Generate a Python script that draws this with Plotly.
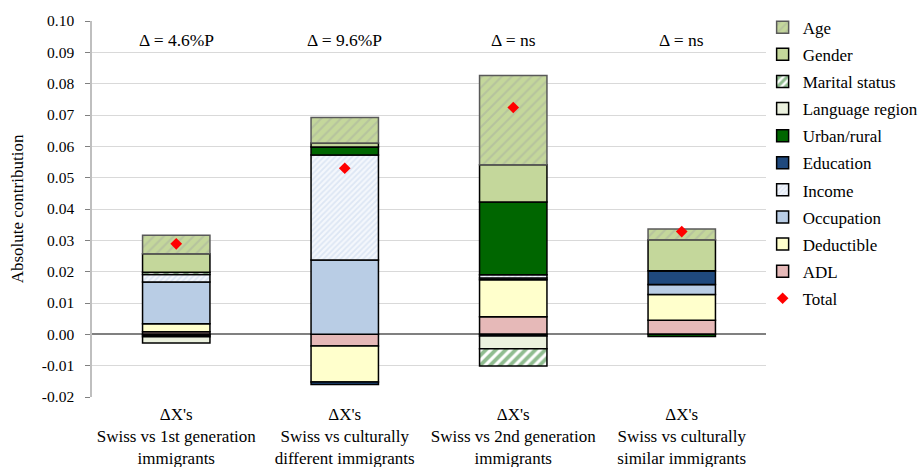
import plotly.graph_objects as go

categories = [
    "ΔX's<br>Swiss vs 1st generation<br>immigrants",
    "ΔX's<br>Swiss vs culturally<br>different immigrants",
    "ΔX's<br>Swiss vs 2nd generation<br>immigrants",
    "ΔX's<br>Swiss vs culturally<br>similar immigrants",
]
# stacking order from the axis outward
adl = [0.0008, -0.0037, 0.0056, 0.0045]
deductible = [0.0026, -0.0115, 0.0118, 0.0082]
occupation = [0.0133, 0.0237, 0.0006, 0.0032]
income = [0.0024, 0.0335, 0.0010, 0.0]
education = [-0.0003, -0.0008, -0.0005, 0.0044]
urban_rural = [-0.0005, 0.0026, 0.0232, -0.0007]
language_region = [-0.0020, 0.0, -0.0041, 0.0]
marital_status = [0.0007, 0.0, -0.0055, 0.0]
gender = [0.0059, 0.0013, 0.0119, 0.0099]
age = [0.0059, 0.0081, 0.0285, 0.0034]
total = [0.0289, 0.0530, 0.0724, 0.0328]
delta_labels = ["Δ = 4.6%P", "Δ = 9.6%P", "Δ = ns", "Δ = ns"]
y_ticks = [-0.02, -0.01, 0.0, 0.01, 0.02, 0.03, 0.04, 0.05, 0.06, 0.07, 0.08, 0.09, 0.10]
y_tick_text = ["-0.02", "-0.01", "0.00", "0.01", "0.02", "0.03", "0.04", "0.05",
               "0.06", "0.07", "0.08", "0.09", "0.10"]

FONT = "'Liberation Serif', 'DejaVu Serif', serif"

series = [
    ("ADL", adl, dict(color="#E6B9B8"), 10),
    ("Deductible", deductible, dict(color="#FFFFCC"), 9),
    ("Occupation", occupation, dict(color="#B9CDE5"), 8),
    ("Income", income, dict(color="#F4F7FC",
                             pattern=dict(shape="/", bgcolor="#F4F7FC", fgcolor="#C6D6EC",
                                          size=4, solidity=0.45)), 7),
    ("Education", education, dict(color="#1F497D"), 6),
    ("Urban/rural", urban_rural, dict(color="#006600"), 5),
    ("Language region", language_region, dict(color="#EBF1DE"), 4),
    ("Marital status", marital_status, dict(color="#FFFFFF",
                                            pattern=dict(shape="/", bgcolor="#FFFFFF", fgcolor="#1F7A1F",
                                                         size=7, solidity=0.55)), 3),
    ("Gender", gender, dict(color="#C4D79B"), 2),
    ("Age", age, dict(color="#C4D79B",
                      pattern=dict(shape="/", bgcolor="#C4D79B", fgcolor="#A8AFA0",
                                   size=7, solidity=0.3)), 1),
]

fig = go.Figure()
for name, vals, mk, rank in series:
    lc = "#595959" if name == "Age" else "#000000"
    fig.add_trace(go.Bar(
        x=categories, y=vals, name=name, legendrank=rank,
        legendgroup=name,
        marker=dict(**mk, line=dict(color=lc, width=1.5)),
        hoverinfo="skip",
    ))

fig.add_trace(go.Scatter(
    x=categories, y=total, name="Total", mode="markers", legendrank=11,
    legendgroup="Total",
    marker=dict(symbol="diamond", color="#FF0000", size=9),
))

for c, t in zip(categories, delta_labels):
    fig.add_annotation(x=c, y=0.094, text=t, showarrow=False,
                       font=dict(family=FONT, size=17.5, color="#000000"))

fig.update_layout(
    width=920, height=467,
    margin=dict(l=92, r=154, t=21, b=70, autoexpand=False),
    barmode="relative", bargap=0.6,
    plot_bgcolor="#FFFFFF", paper_bgcolor="#FFFFFF",
    font=dict(family=FONT, size=17, color="#000000"),
    legend=dict(x=0.995, y=1.03, xanchor="left", yanchor="top",
                font=dict(family=FONT, size=17), traceorder="grouped",
                tracegroupgap=2, bgcolor="rgba(0,0,0,0)", maxheight=1.0,
                itemwidth=30),
    showlegend=True,
)
fig.update_yaxes(
    range=[-0.02, 0.10], tickvals=y_ticks, ticktext=y_tick_text,
    automargin=False,
    showgrid=True, gridcolor="#D9D9D9", gridwidth=1,
    zeroline=True, zerolinecolor="#808080", zerolinewidth=1.5,
    showline=True, linecolor="#BFBFBF", linewidth=1.5,
    ticks="outside", ticklen=5, tickcolor="#808080",
    ticklabelstandoff=8,
    tickfont=dict(family=FONT, size=15.5),
    title=dict(text="Absolute contribution", font=dict(family=FONT, size=17), standoff=14),
)
fig.update_xaxes(showline=False, showgrid=False, ticks="", automargin=False,
                 ticklabelstandoff=5,
                 tickfont=dict(family=FONT, size=17))

fig.write_html("out.html",
               config={"displayModeBar": False},
               post_script="document.body.style.margin='0';document.body.style.overflow='hidden';")
